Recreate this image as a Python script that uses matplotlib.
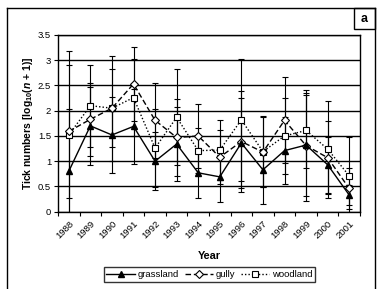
import numpy as np
import matplotlib.pyplot as plt
from matplotlib.patches import Rectangle
from matplotlib.lines import Line2D

plt.rcParams['font.family'] = ['Liberation Sans', 'DejaVu Sans']
plt.rcParams['mathtext.fontset'] = 'custom'
plt.rcParams['mathtext.rm'] = 'Liberation Sans:bold'
plt.rcParams['mathtext.it'] = 'Liberation Sans:italic:bold'

# data
years = ['1988', '1989', '1990', '1991', '1992', '1993', '1994',
         '1995', '1996', '1997', '1998', '1999', '2000', '2001']
grassland = [0.80, 1.70, 1.52, 1.69, 1.00, 1.34, 0.77, 0.69, 1.36, 0.83, 1.21, 1.32, 0.93, 0.33]
gully = [1.59, 1.83, 2.05, 2.53, 1.81, 1.47, 1.50, 1.08, 1.39, 1.18, 1.81, 1.31, 1.07, 0.46]
woodland = [1.52, 2.10, 2.05, 2.26, 1.26, 1.87, 1.21, 1.22, 1.82, 1.19, 1.50, 1.61, 1.24, 0.71]

grass_err = [1.24, 0.77, 0.76, 0.74, 0.58, 0.73, 0.50, 0.50, 0.89, 0.67, 0.66, 1.10, 0.55, 0.20]
gully_err = [1.32, 0.72, 0.77, 0.74, 0.74, 0.76, 0.63, 0.54, 1.00, 0.69, 0.85, 1.00, 0.72, 0.40]
wood_err = [1.67, 0.81, 1.04, 0.77, 0.78, 0.95, 0.44, 0.59, 1.21, 0.71, 0.76, 0.75, 0.96, 0.77]

yticks = [0, 0.5, 1, 1.5, 2, 2.5, 3, 3.5]
ytick_labels = ['0', '0.5', '1', '1.5', '2', '2.5', '3', '3.5']

W, H = 387, 289
fig = plt.figure(figsize=(W / 100, H / 100), dpi=100)

# outer frame (open at bottom) and panel label box
fig.add_artist(Line2D([7 / W, 7 / W], [0, 1 - 8 / H], color='black', lw=1.0))
fig.add_artist(Line2D([375 / W, 375 / W], [0, 1 - 8 / H], color='black', lw=1.0))
fig.add_artist(Line2D([7 / W, 375 / W], [1 - 8 / H, 1 - 8 / H], color='black', lw=1.0))
fig.add_artist(Rectangle((354 / W, 1 - 29 / H), 21 / W, 21 / H, fill=False,
                         edgecolor='black', lw=1.0, transform=fig.transFigure))
fig.text(364.5 / W, 1 - 18.5 / H, 'a', ha='center', va='center', fontsize=9, fontweight='bold')

ax = fig.add_axes([58 / W, 1 - 211.7 / H, (360 - 58) / W, (211.7 - 35) / H])
x = np.arange(len(years))

ax.set_axisbelow(True)
ax.yaxis.grid(True, color='black', linewidth=1.0)

for vals, err in [(woodland, wood_err), (gully, gully_err), (grassland, grass_err)]:
    ax.errorbar(x, vals, yerr=err, fmt='none', ecolor='black', elinewidth=0.8,
                capsize=2.3, capthick=0.8, zorder=2)

ax.plot(x, woodland, linestyle=(0, (1, 1.5)), color='black', lw=1.0, marker='s',
        markersize=5, markerfacecolor='white', markeredgecolor='black',
        markeredgewidth=0.8, label='woodland', zorder=3)
ax.plot(x, gully, linestyle=(0, (4, 2)), color='black', lw=1.0, marker='D',
        markersize=4, markerfacecolor='white', markeredgecolor='black',
        markeredgewidth=0.8, label='gully', zorder=4)
ax.plot(x, grassland, linestyle='-', color='black', lw=1.0, marker='^',
        markersize=5, markerfacecolor='black', markeredgecolor='black',
        label='grassland', zorder=5)

ax.set_xlim(-0.5, len(years) - 0.5)
ax.set_ylim(0, 3.5)
ax.set_yticks(yticks)
ax.set_yticklabels(ytick_labels, fontsize=6.8)
ax.set_xticks(x)
ax.set_xticklabels(years, fontsize=6.8, rotation=45, ha='right', va='top',
                   rotation_mode='anchor')
ax.set_xticks(np.arange(-0.5, len(years), 1), minor=True)
ax.tick_params(axis='x', which='major', length=0, pad=5)
ax.tick_params(axis='x', which='minor', length=3, width=0.8, direction='out')
ax.tick_params(axis='y', length=3, width=0.8, direction='out', pad=2)
for s in ax.spines.values():
    s.set_color('black')
    s.set_linewidth(1.0)

ax.set_xlabel('Year', fontsize=7.8, fontweight='bold', labelpad=8)
fig.text(28 / W, 1 - 123 / H, r'Tick numbers [log$_{10}$($n$ + 1)]', rotation=90,
         ha='center', va='center', fontsize=7.5, fontweight='bold')

h, l = ax.get_legend_handles_labels()
order = [2, 1, 0]
leg = fig.legend([h[i] for i in order], [l[i] for i in order], loc='center',
                 bbox_to_anchor=(209.5 / W, 1 - 274.5 / H), ncol=3, fontsize=6.8,
                 frameon=True, fancybox=False, edgecolor='black', handlelength=3.0,
                 handletextpad=0.3, columnspacing=0.6, borderpad=0.3)
leg.get_frame().set_linewidth(1.0)

fig.savefig('out.png', dpi=100)
